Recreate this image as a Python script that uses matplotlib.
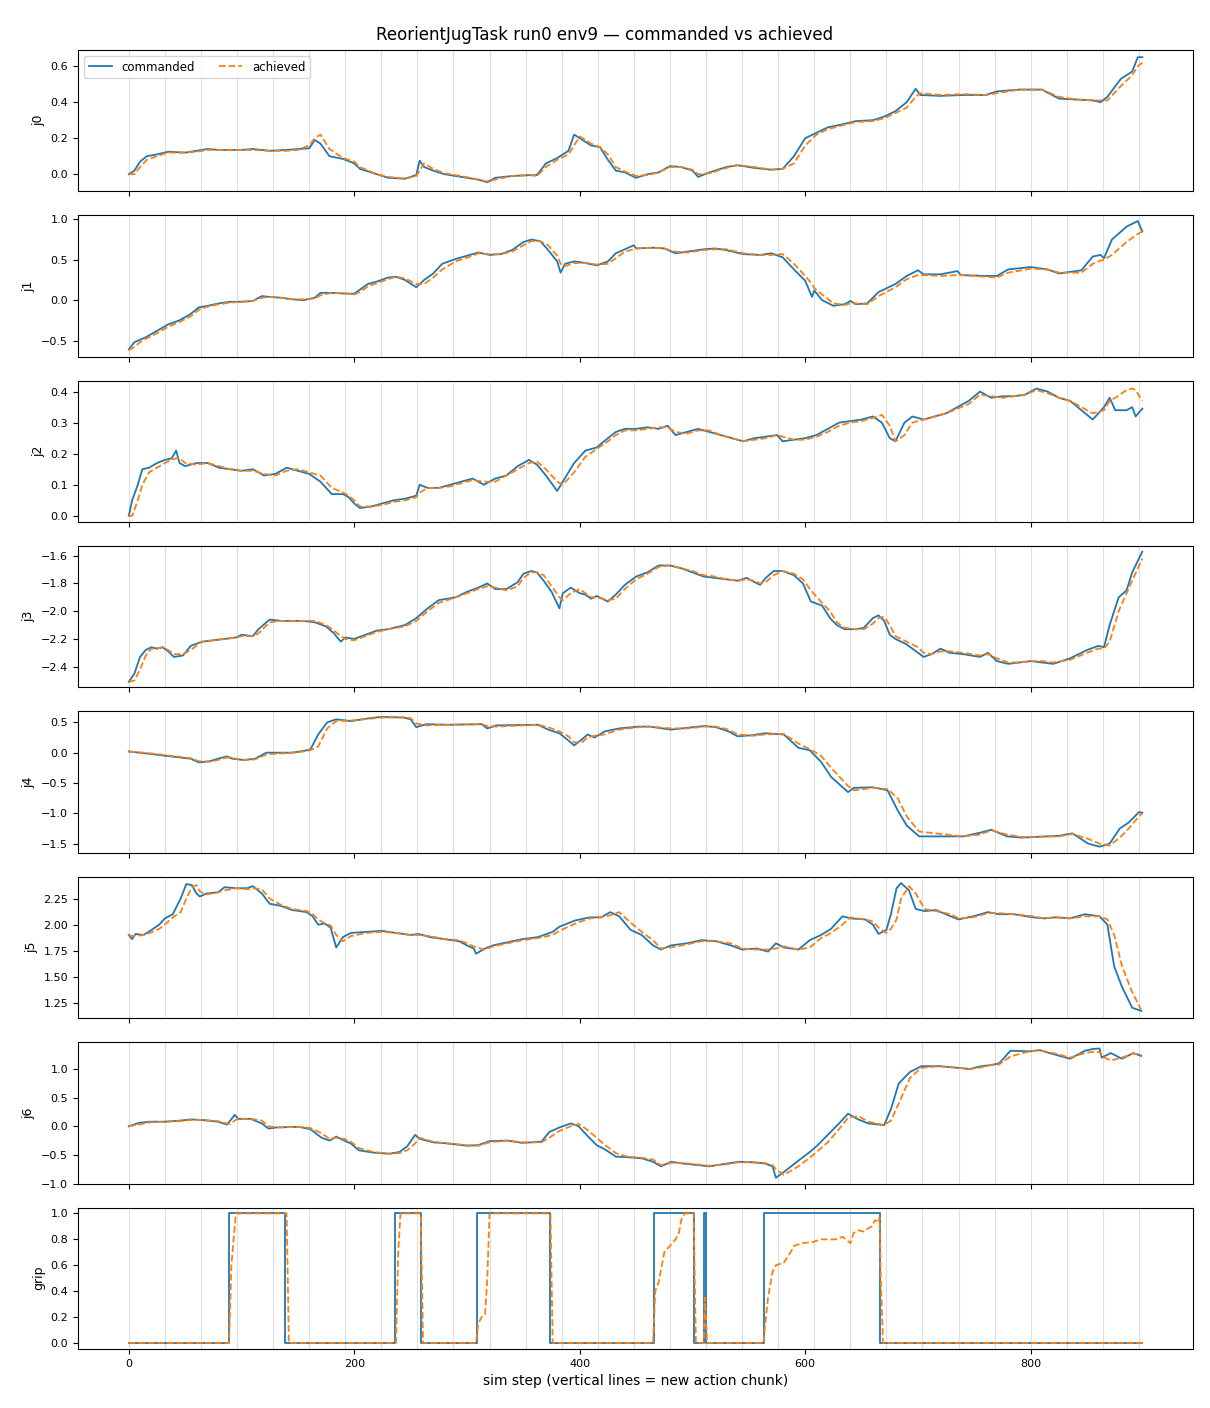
import matplotlib
matplotlib.use("Agg")
import matplotlib.pyplot as plt

# ---------------- data ----------------
j0_steps = [0,5,10,16,25,35,50,60,70,80,100,110,125,140,150,160,165,170,178,190,200,205,220,230,245,255,258,262,270,280,295,310,318,325,340,355,362,370,380,390,395,400,410,418,425,432,440,450,460,470,480,490,500,505,515,530,540,555,570,580,590,600,610,620,635,645,660,670,680,690,698,702,720,740,760,770,790,810,825,840,855,862,868,880,890,895,899]
j0_cmd = [0.0,0.02,0.07,0.10,0.11, 0.125,0.12,0.13,0.14,0.135, 0.135,0.14,0.13,0.135,0.14, 0.144,0.19,0.17,0.10,0.085, 0.06,0.03,0.0,-0.02,-0.025, -0.005,0.075,0.04,0.02,0.0, -0.015,-0.03,-0.045,-0.02,-0.01, -0.005,-0.005,0.06,0.09,0.13, 0.22,0.2,0.16,0.15,0.08, 0.02,0.01,-0.02,0.0,0.01, 0.045,0.04,0.02,-0.015,0.01, 0.04,0.05,0.035,0.025,0.03, 0.1,0.2,0.23,0.26,0.28, 0.295,0.30,0.32,0.35,0.40, 0.475,0.44,0.435,0.44,0.44, 0.46,0.47,0.47,0.42,0.415, 0.41,0.40,0.43,0.53,0.57, 0.65,0.65]
j0_ach = [0.0,0.0,0.04,0.08,0.10, 0.12,0.12,0.125,0.135,0.135, 0.135,0.135,0.13,0.13,0.135, 0.16,0.20,0.22,0.14,0.09, 0.07,0.04,0.0,-0.015,-0.025, -0.01,0.02,0.06,0.03,0.005, -0.01,-0.03,-0.04,-0.03,-0.01, -0.005,-0.01,0.04,0.08,0.11, 0.16,0.21,0.17,0.15,0.11, 0.04,0.015,-0.01,-0.005,0.01, 0.04,0.04,0.025,0.0,0.005, 0.035,0.05,0.04,0.025,0.03, 0.06,0.16,0.22,0.25,0.275, 0.29,0.295,0.31,0.34,0.37, 0.43,0.45,0.44,0.445,0.44, 0.45,0.47,0.47,0.43,0.415, 0.41,0.41,0.41,0.49,0.55, 0.60,0.62]

j1_steps = [0,5,10,15,25,35,45,55,62,70,80,90,100,110,118,125,135,145,155,165,170,180,195,200,205,212,220,230,237,245,255,262,270,278,290,305,310,320,330,340,350,357,365,372,380,383,387,395,405,415,425,432,440,448,450,465,475,485,495,510,520,530,545,560,570,580,590,600,606,608,615,625,635,640,645,655,665,680,690,700,705,720,735,738,760,770,780,800,815,825,845,855,862,865,872,885,895,899]
j1_cmd = [-0.61,-0.52,-0.49,-0.46,-0.38, -0.30,-0.25,-0.17,-0.09,-0.07, -0.04,-0.02,-0.02,-0.01,0.05, 0.04,0.03,0.01,0.0,0.03, 0.09,0.09,0.08,0.08,0.13, 0.20,0.23,0.28,0.29,0.25, 0.16,0.25,0.33,0.45,0.51, 0.57,0.59,0.56,0.57,0.62, 0.72,0.75,0.73,0.62,0.48, 0.34,0.45,0.48,0.46,0.43, 0.48,0.58,0.63,0.68,0.64, 0.65,0.64,0.58,0.60,0.63, 0.64,0.62,0.57,0.56,0.58, 0.53,0.38,0.24,0.04,0.12, 0.0,-0.07,-0.05,-0.01,-0.05, -0.04,0.10,0.20,0.30,0.37, 0.32,0.32,0.36,0.31,0.30, 0.30,0.38,0.41,0.38,0.33, 0.37,0.54,0.56,0.52,0.75, 0.91,0.98,0.85]
j1_ach = [-0.62,-0.58,-0.52,-0.48,-0.41, -0.33,-0.27,-0.20,-0.12,-0.08, -0.05,-0.03,-0.02,-0.01,0.03, 0.04,0.03,0.01,0.01,0.02, 0.06,0.09,0.08,0.07,0.10, 0.17,0.21,0.26,0.29,0.27, 0.20,0.20,0.28,0.38,0.48, 0.55,0.58,0.57,0.57,0.60, 0.68,0.73,0.73,0.68,0.55, 0.45,0.42,0.46,0.46,0.44, 0.45,0.52,0.60,0.63,0.64, 0.65,0.64,0.60,0.59,0.62, 0.63,0.63,0.58,0.56,0.56, 0.57,0.45,0.30,0.20,0.15, 0.07,-0.04,-0.06,-0.04,-0.04, -0.05,0.05,0.16,0.26,0.31, 0.31,0.30,0.31,0.31,0.29, 0.28,0.34,0.39,0.38,0.34, 0.34,0.45,0.49,0.50,0.56, 0.72,0.82,0.85]

j2_steps = [0,3,8,12,18,25,32,38,42,45,50,60,70,80,90,100,110,120,130,140,150,160,170,180,190,195,200,205,215,225,235,245,255,258,265,275,285,295,305,315,325,335,345,355,362,370,380,385,395,405,415,425,432,440,450,460,470,478,485,495,505,515,525,535,545,555,565,575,580,590,600,610,620,630,640,650,660,668,675,680,688,695,705,715,725,735,745,755,765,775,785,795,805,815,825,835,845,855,865,870,875,885,890,893,899]
j2_cmd = [0.0,0.05,0.10,0.15,0.155, 0.17,0.18,0.185,0.21,0.17, 0.16,0.17,0.17,0.155,0.15, 0.145,0.15,0.13,0.135,0.155, 0.145,0.135,0.11,0.07,0.07, 0.06,0.04,0.025,0.03,0.04, 0.05,0.055,0.065,0.10,0.09, 0.09,0.10,0.11,0.12,0.10, 0.12,0.13,0.16,0.18,0.165, 0.13,0.08,0.11,0.17,0.21, 0.22,0.25,0.27,0.28,0.28, 0.285,0.28,0.29,0.26,0.27, 0.28,0.27,0.26,0.25,0.24, 0.25,0.255,0.26,0.24,0.245, 0.25,0.26,0.28,0.30,0.305, 0.31,0.32,0.30,0.25,0.24, 0.30,0.32,0.31,0.32,0.33, 0.35,0.37,0.40,0.38,0.385, 0.385,0.39,0.41,0.40,0.38, 0.37,0.34,0.31,0.35,0.38, 0.34,0.34,0.35,0.32,0.345]
j2_ach = [0.0,0.0,0.05,0.10,0.14, 0.155,0.17,0.18,0.185,0.185, 0.17,0.165,0.17,0.16,0.15, 0.145,0.145,0.135,0.13,0.145, 0.15,0.14,0.13,0.09,0.075, 0.065,0.05,0.03,0.03,0.035, 0.045,0.05,0.06,0.075,0.09, 0.09,0.095,0.105,0.115,0.11, 0.11,0.13,0.15,0.17,0.175, 0.15,0.11,0.10,0.14,0.19, 0.215,0.24,0.26,0.275,0.275, 0.28,0.285,0.285,0.27,0.265, 0.275,0.275,0.26,0.25,0.24, 0.245,0.25,0.26,0.255,0.245, 0.245,0.255,0.27,0.29,0.30, 0.305,0.315,0.325,0.29,0.24, 0.26,0.30,0.31,0.32,0.33, 0.345,0.36,0.39,0.385,0.38, 0.385,0.39,0.405,0.395,0.38, 0.37,0.35,0.33,0.34,0.37, 0.38,0.405,0.41,0.405,0.37]

j3_steps = [0,5,10,15,20,25,30,35,40,48,55,65,75,85,95,100,110,115,125,135,145,155,165,175,182,188,192,200,210,220,230,245,255,265,275,290,300,310,318,325,335,345,350,357,362,368,375,382,385,392,400,405,410,415,425,432,440,450,460,470,480,490,500,510,520,530,540,548,555,560,565,572,580,590,598,605,615,622,628,635,645,652,660,665,670,675,680,690,700,705,712,720,728,740,755,762,770,780,790,800,810,820,835,850,860,865,870,878,885,890,899]
j3_cmd = [-2.51,-2.45,-2.33,-2.28,-2.26, -2.27,-2.26,-2.29,-2.33,-2.32, -2.25,-2.22,-2.21,-2.20,-2.19, -2.17,-2.18,-2.13,-2.06,-2.07, -2.07,-2.07,-2.08,-2.11,-2.16, -2.22,-2.19,-2.20,-2.17,-2.14, -2.13,-2.10,-2.05,-1.98,-1.92, -1.90,-1.86,-1.83,-1.80,-1.84, -1.84,-1.79,-1.73,-1.71,-1.72, -1.78,-1.86,-1.98,-1.87,-1.83, -1.87,-1.88,-1.91,-1.89,-1.93, -1.88,-1.81,-1.75,-1.72,-1.67, -1.67,-1.69,-1.72,-1.75,-1.76, -1.77,-1.78,-1.76,-1.79,-1.81, -1.76,-1.71,-1.71,-1.74,-1.80, -1.93,-1.96,-2.05,-2.10,-2.13, -2.13,-2.12,-2.05,-2.03,-2.07, -2.17,-2.20,-2.24,-2.30,-2.33, -2.31,-2.27,-2.30,-2.31,-2.33, -2.30,-2.36,-2.38,-2.37,-2.36, -2.37,-2.38,-2.34,-2.28,-2.25, -2.26,-2.10,-1.90,-1.85,-1.72, -1.57]
j3_ach = [-2.51,-2.50,-2.42,-2.32,-2.27, -2.27,-2.26,-2.28,-2.31,-2.31, -2.28,-2.22,-2.21,-2.20,-2.19, -2.18,-2.18,-2.16,-2.08,-2.07, -2.07,-2.07,-2.07,-2.10,-2.14, -2.18,-2.20,-2.21,-2.18,-2.15, -2.13,-2.11,-2.07,-2.00,-1.94, -1.90,-1.87,-1.84,-1.82,-1.83, -1.85,-1.82,-1.76,-1.72,-1.72, -1.74,-1.82,-1.90,-1.92,-1.87, -1.84,-1.87,-1.90,-1.90,-1.92, -1.91,-1.84,-1.77,-1.73,-1.68, -1.67,-1.69,-1.71,-1.74,-1.75, -1.77,-1.78,-1.77,-1.78,-1.80, -1.79,-1.74,-1.71,-1.73,-1.77, -1.85,-1.94,-2.00,-2.08,-2.12, -2.13,-2.13,-2.09,-2.05,-2.04, -2.10,-2.18,-2.22,-2.26,-2.30, -2.31,-2.29,-2.29,-2.30,-2.32, -2.31,-2.34,-2.37,-2.37,-2.36, -2.36,-2.37,-2.35,-2.30,-2.27, -2.27,-2.22,-2.00,-1.87,-1.78, -1.62]

j4_steps = [0,19,32,46,55,62,72,79,87,92,102,112,122,145,155,161,168,176,184,197,214,224,244,250,255,264,283,313,318,326,363,372,382,390,395,402,407,413,422,435,452,462,481,495,511,521,532,540,554,564,581,594,604,614,623,638,643,660,673,682,690,701,740,755,765,779,792,825,837,851,861,870,879,887,896,899]
j4_cmd = [0.02,-0.02,-0.05,-0.08,-0.10, -0.16,-0.14,-0.10,-0.06,-0.10, -0.12,-0.10,0.0,0.0,0.03, 0.05,0.30,0.50,0.55,0.52, 0.57,0.59,0.58,0.55,0.42, 0.47,0.46,0.47,0.40,0.45, 0.46,0.38,0.32,0.20,0.12, 0.22,0.30,0.25,0.35,0.40, 0.43,0.43,0.38,0.41,0.44, 0.42,0.35,0.27,0.29,0.32, 0.30,0.08,0.04,-0.15,-0.40, -0.65,-0.58,-0.57,-0.62,-0.95, -1.20,-1.38,-1.38,-1.32,-1.27, -1.38,-1.40,-1.37,-1.33,-1.50, -1.55,-1.50,-1.25,-1.15,-0.98, -0.99]
j4_ach = [0.02,-0.01,-0.04,-0.07,-0.09, -0.14,-0.15,-0.12,-0.08,-0.09, -0.12,-0.11,-0.03,0.0,0.02, 0.04,0.10,0.40,0.52,0.53, 0.56,0.58,0.58,0.57,0.48, 0.45,0.46,0.47,0.44,0.43, 0.46,0.42,0.35,0.27,0.17, 0.17,0.25,0.28,0.30,0.38, 0.42,0.43,0.40,0.40,0.43, 0.43,0.38,0.30,0.28,0.30, 0.31,0.15,0.06,-0.05,-0.25, -0.55,-0.62,-0.58,-0.60,-0.75, -1.05,-1.30,-1.38,-1.35,-1.28, -1.35,-1.39,-1.38,-1.34,-1.42, -1.50,-1.53,-1.40,-1.25,-1.05, -1.00]

j5_steps = [0,3,6,13,19,27,32,39,46,51,56,60,63,69,79,85,95,105,110,118,125,135,145,158,163,168,174,179,184,190,197,211,224,237,250,257,267,280,293,300,306,308,316,323,336,349,363,376,382,396,409,419,427,435,445,455,465,472,481,495,508,521,534,544,557,567,574,581,594,604,614,623,633,640,653,660,665,672,676,681,685,692,698,706,716,729,736,749,762,772,785,802,812,822,835,848,861,868,874,881,890,898]
j5_cmd = [1.90,1.86,1.91,1.90,1.94, 2.00,2.06,2.10,2.25,2.39, 2.38,2.30,2.27,2.30,2.31, 2.36,2.35,2.35,2.37,2.30, 2.20,2.18,2.14,2.12,2.08, 2.00,2.01,1.97,1.78,1.88, 1.92,1.93,1.94,1.92,1.90, 1.91,1.88,1.86,1.84,1.80, 1.77,1.72,1.77,1.80,1.83, 1.86,1.88,1.93,1.98,2.04, 2.07,2.07,2.12,2.08,1.95, 1.90,1.80,1.76,1.80,1.82, 1.85,1.84,1.80,1.76,1.77, 1.74,1.82,1.78,1.76,1.85, 1.90,1.96,2.08,2.06,2.05, 2.00,1.91,1.95,2.10,2.35, 2.40,2.33,2.15,2.13,2.14, 2.08,2.05,2.08,2.12,2.10, 2.10,2.07,2.06,2.07,2.06, 2.10,2.08,2.00,1.60,1.40, 1.20,1.17]
j5_ach = [1.90,1.89,1.89,1.90,1.92, 1.96,2.00,2.07,2.12,2.25, 2.36,2.38,2.32,2.29,2.31, 2.33,2.35,2.34,2.35,2.34, 2.25,2.19,2.15,2.13,2.10, 2.05,2.01,1.99,1.90,1.84, 1.89,1.92,1.93,1.92,1.90, 1.90,1.89,1.86,1.85,1.82, 1.79,1.78,1.76,1.79,1.82, 1.85,1.87,1.90,1.94,2.01, 2.06,2.07,2.09,2.12,2.02, 1.93,1.85,1.77,1.78,1.81, 1.84,1.84,1.82,1.77,1.76, 1.76,1.77,1.79,1.76,1.78, 1.87,1.92,2.00,2.07,2.05, 2.03,1.97,1.92,1.96,2.05, 2.25,2.37,2.30,2.15,2.13, 2.10,2.06,2.07,2.11,2.11, 2.10,2.08,2.06,2.07,2.06, 2.08,2.08,2.05,1.90,1.60, 1.35,1.18]

j6_steps = [0,9,19,32,46,55,65,79,87,90,94,97,108,118,124,131,151,161,171,178,184,191,197,204,217,231,240,247,254,258,270,283,300,310,320,336,349,366,373,382,392,399,406,415,422,432,442,455,465,472,481,491,501,515,528,541,554,564,571,574,581,594,604,610,620,630,638,647,656,670,676,683,693,703,719,736,746,756,765,772,782,799,808,822,835,848,855,861,863,871,881,891,898]
j6_cmd = [0.0,0.06,0.08,0.08,0.10, 0.12,0.11,0.08,0.03,0.10, 0.20,0.13,0.13,0.05,-0.04, -0.02,-0.01,-0.05,-0.20,-0.25, -0.18,-0.25,-0.30,-0.42,-0.46, -0.48,-0.45,-0.35,-0.15,-0.22, -0.28,-0.30,-0.34,-0.33,-0.26, -0.25,-0.29,-0.27,-0.10,-0.02, 0.05,0.0,-0.15,-0.33,-0.40, -0.53,-0.54,-0.56,-0.62,-0.70, -0.62,-0.65,-0.67,-0.70,-0.66, -0.62,-0.63,-0.65,-0.70,-0.90, -0.80,-0.60,-0.45,-0.35,-0.15, 0.05,0.22,0.12,0.05,0.02, 0.30,0.75,0.95,1.05,1.05, 1.02,1.00,1.05,1.07,1.10, 1.32,1.31,1.33,1.25,1.18, 1.32,1.35,1.36,1.20,1.28, 1.18,1.28,1.23]
j6_ach = [0.0,0.03,0.07,0.08,0.09, 0.11,0.11,0.09,0.05,0.04, 0.10,0.13,0.13,0.10,0.0, -0.02,-0.01,-0.03,-0.12,-0.22, -0.20,-0.22,-0.27,-0.38,-0.45, -0.48,-0.47,-0.42,-0.30,-0.20, -0.27,-0.30,-0.33,-0.34,-0.28, -0.25,-0.28,-0.28,-0.20,-0.08, 0.0,0.04,-0.05,-0.20,-0.32, -0.47,-0.53,-0.55,-0.58,-0.68, -0.64,-0.64,-0.66,-0.69,-0.67, -0.63,-0.63,-0.64,-0.68,-0.75, -0.85,-0.70,-0.55,-0.45,-0.28, -0.05,0.15,0.18,0.08,0.02, 0.10,0.40,0.85,1.02,1.05, 1.02,1.00,1.03,1.07,1.08, 1.22,1.31,1.33,1.27,1.20, 1.28,1.30,1.30,1.22,1.15, 1.20,1.27,1.25]

grip_cmd_steps = [0,89,139,236,259,309,374,466,501,510,512,563,666,899]
grip_cmd = [0,1,0,1,0,1,0,1,0,1,0,1,0,0]
grip_ach_steps = [0,89,91,95,140,142,237,239,241,259,261,308,310,313,316,318,320,374,376,465,467,470,475,480,485,488,490,493,501,503,510,511,513,563,564,567,571,574,581,584,587,590,597,607,614,627,633,636,640,643,647,652,655,659,662,665,666,667,669,899]
grip_ach = [0,0,0.6,1,1, 0,0,0.7,1,1, 0,0,0.15,0.2,0.22, 0.5,1,1,0,0, 0.4,0.47,0.7,0.75,0.8, 0.85,0.95,1,1,0, 0,0.35,0, 0,0.1, 0.35,0.55,0.6,0.62,0.66, 0.7,0.75,0.77,0.78,0.8, 0.8,0.82,0.8,0.77,0.85, 0.87,0.86,0.88,0.9,0.95, 0.93,0.97,0.5,0,0]

chunk_starts = list(range(0, 900, 32))

joint_names = ["j0", "j1", "j2", "j3", "j4", "j5", "j6"]
joint_data = [
    (j0_steps, j0_cmd, j0_ach),
    (j1_steps, j1_cmd, j1_ach),
    (j2_steps, j2_cmd, j2_ach),
    (j3_steps, j3_cmd, j3_ach),
    (j4_steps, j4_cmd, j4_ach),
    (j5_steps, j5_cmd, j5_ach),
    (j6_steps, j6_cmd, j6_ach),
]
ylims = [(-0.095, 0.69), (-0.70, 1.05), (-0.02, 0.435), (-2.55, -1.53),
         (-1.65, 0.68), (1.10, 2.46), (-1.0, 1.47), (-0.046, 1.046)]

# ---------------- plot ----------------
fig, axes = plt.subplots(8, 1, figsize=(12.1, 14.08), dpi=100, sharex=True)
fig.subplots_adjust(left=0.0645, right=0.986, top=0.9645, bottom=0.042, hspace=0.17)

c_cmd = "#1f77b4"
c_ach = "#ff7f0e"

for i, ax in enumerate(axes):
    for s in chunk_starts:
        ax.axvline(s, color="gray", alpha=0.25, lw=0.8, zorder=0)
    if i < 7:
        st, cm, ac = joint_data[i]
        ax.plot(st, cm, color=c_cmd, lw=1.3, label="commanded")
        ax.plot(st, ac, color=c_ach, lw=1.3, ls="--", label="achieved")
        ax.set_ylabel(joint_names[i], fontsize=9)
    else:
        ax.plot(grip_cmd_steps, grip_cmd, color=c_cmd, lw=1.3, drawstyle="steps-post", label="commanded")
        ax.plot(grip_ach_steps, grip_ach, color=c_ach, lw=1.3, ls="--", label="achieved")
        ax.set_ylabel("grip", fontsize=9)
    ax.set_ylim(*ylims[i])
    ax.tick_params(labelsize=8)

axes[0].set_xlim(-45, 944)
axes[0].legend(loc="upper left", ncol=2, fontsize=8.5)
axes[-1].set_xlabel("sim step (vertical lines = new action chunk)", fontsize=10)
fig.suptitle("ReorientJugTask run0 env9 \u2014 commanded vs achieved", fontsize=12, y=0.9815)

fig.savefig("out.png", dpi=100)
